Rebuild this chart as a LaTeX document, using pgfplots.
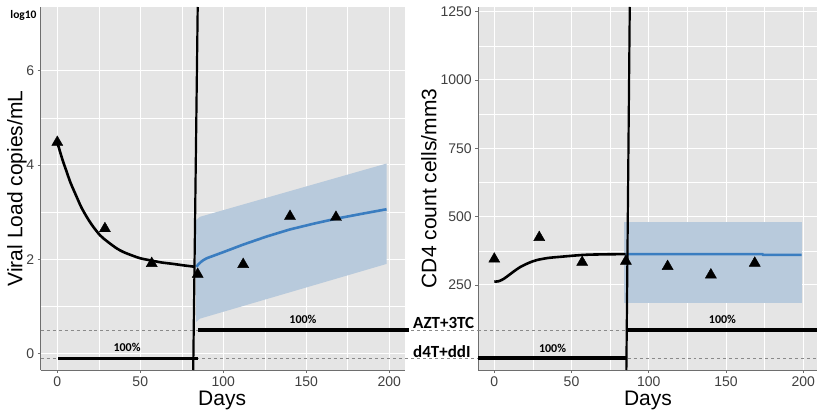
\documentclass[border=0pt]{standalone}
\usepackage{pgfplots}
\pgfplotsset{compat=1.18}
\usepackage{fontspec}
\setmainfont{Liberation Sans}
\newfontfamily\calibri{Carlito}

\definecolor{panelbg}{HTML}{E5E5E5}
\definecolor{bandblue}{HTML}{B8CADC}
\definecolor{lineblue}{HTML}{3A7DC0}
\definecolor{axisgray}{HTML}{6E6E6E}
\definecolor{tickgray}{HTML}{404040}
\definecolor{dashgray}{HTML}{8A8A8A}

\pgfplotsset{
  panel/.style={
    scale only axis, anchor=south west, clip=false,
    axis background/.style={fill=panelbg},
    axis lines=left, axis line style={-, draw=axisgray, line width=0.8bp},
    grid=both,
    major grid style={white, line width=1bp},
    minor grid style={white, line width=0.5bp},
    tick align=outside, major tick length=3bp, minor tick length=0pt,
    tick style={axisgray, line width=0.7bp},
    ticklabel style={font=\fontsize{14bp}{14bp}\selectfont, text=tickgray},
    /pgf/number format/assume math mode=true,
    /pgf/number format/1000 sep={},
    scaled ticks=false,
    label style={font=\fontsize{21bp}{21bp}\selectfont},
    xtick={0,50,100,150,200}, minor xtick={25,75,125,175},
  },
}
\tikzset{pct/.style={font=\calibri\bfseries\fontsize{12bp}{12bp}\selectfont}}

\begin{document}
\begin{tikzpicture}
\useasboundingbox (0,0) rectangle (817bp,411bp);

% ---------- viral load ----------
\begin{axis}[panel,
    at={(40.7bp,41bp)}, width=364.3bp, height=363bp,
    xmin=-10, xmax=209.5, ymin=-0.35, ymax=7.35,
    ytick={0,2,4,6}, minor ytick={1,3,5},
    xlabel={Days}, ylabel={Viral Load copies/mL},
    xlabel style={at={(rel axis cs:0.498,-0.083)}, anchor=center},
    ylabel style={at={(rel axis cs:-0.065,0.5)}, anchor=center, rotate=0},
]
  % confidence band
  \addplot[fill=bandblue, draw=none] coordinates {
    (83.6,2.83) (86,2.90) (90,2.94) (198.4,4.03)
    (198.4,1.90) (86,0.74) (83.6,0.67)
  } -- cycle;
  % regimen guides
  \addplot[dashgray, dashed, line width=0.6bp] coordinates {(-10,0.5) (253.4,0.5)};
  \addplot[dashgray, dashed, line width=0.6bp] coordinates {(-10,-0.1) (253.4,-0.1)};
  % prediction
  \addplot[lineblue, line width=2.6bp] coordinates {
    (83.8,1.84) (85,1.89) (86.5,1.94) (88,1.98) (90,2.02) (100,2.15)
    (112,2.31) (126,2.48) (140,2.63) (154,2.75) (168,2.86) (183,2.96) (198.4,3.06)
  };
  % fit
  \addplot[black, line width=2.6bp, smooth] coordinates {
    (0,4.47) (1,4.36) (2,4.24) (3.5,4.07) (5.6,3.86) (8,3.62) (11.7,3.32) (14.5,3.10)
    (17.7,2.90) (21,2.72) (25.7,2.51) (30,2.38) (35.8,2.23) (40,2.15)
    (45.8,2.07) (50,2.02) (56.9,1.97) (63,1.93) (69.9,1.90) (76,1.87) (83,1.84)
  };
  % switch day
  \addplot[black, line width=2.2bp] coordinates {(81.9,-0.35) (84.6,7.35)};
  % regimen bars
  \addplot[black, line width=3.4bp] coordinates {(0.6,-0.1) (84.6,-0.1)};
  \addplot[black, line width=3.4bp] coordinates {(85,0.5) (211.8,0.5)};
  % observed
  \addplot[only marks, mark=triangle*, mark size=6.4bp, black] coordinates {
    (0,4.48) (28.7,2.65) (56.9,1.91) (84.6,1.68) (112,1.89) (140.2,2.91) (167.9,2.89)
  };
  \node[pct] at (axis cs:42,0.12) {100\%};
  \node[pct] at (axis cs:148,0.73) {100\%};
\end{axis}

% ---------- CD4 ----------
\begin{axis}[panel,
    at={(478.3bp,41bp)}, width=338.7bp, height=363bp,
    xmin=-10.35, xmax=208.9, ymin=-61, ymax=1267,
    ytick={250,500,750,1000,1250}, minor ytick={375,625,875,1125},
    xlabel={Days}, ylabel={CD4 count cells/mm3},
    xlabel style={at={(rel axis cs:0.501,-0.085)}, anchor=center},
    ylabel style={at={(rel axis cs:-0.146,0.5)}, anchor=center, rotate=0},
]
  \addplot[fill=bandblue, draw=none] coordinates {
    (84.1,183) (84.1,481.5) (199,481.5) (199,183)
  } -- cycle;
  \addplot[dashgray, dashed, line width=0.6bp] coordinates {(-10.35,86) (208.9,86)};
  \addplot[dashgray, dashed, line width=0.6bp] coordinates {(-10.35,-17) (208.9,-17)};
  \addplot[lineblue, line width=2.6bp] coordinates {
    (85,363) (173.6,363) (174,360) (199,360)
  };
  \addplot[black, line width=2.6bp, smooth] coordinates {
    (0,262) (3,264) (6,272) (8,280) (12,297) (16.6,315) (22,330) (27.4,341)
    (35,349) (42.5,353) (57.6,360) (70,362) (85,363)
  };
  \addplot[black, line width=2.2bp] coordinates {(85.5,-61) (87.7,1267)};
  \addplot[black, line width=3.4bp] coordinates {(-10.35,-17) (85.5,-17)};
  \addplot[black, line width=3.4bp] coordinates {(85.5,86) (208.9,86)};
  \addplot[only marks, mark=triangle*, mark size=6.4bp, black] coordinates {
    (0,345) (29.1,424) (56.9,333) (85.2,337) (112.2,318) (140.2,287) (168.6,330)
  };
  \node[pct] at (axis cs:37.7,18) {100\%};
  \node[pct] at (axis cs:147.7,124) {100\%};
\end{axis}

% regimen names and unit tag
\node[anchor=west, inner sep=0pt, font=\calibri\bfseries\fontsize{17bp}{17bp}\selectfont] at (413bp,88.3bp) {AZT+3TC};
\node[anchor=west, inner sep=0pt, font=\calibri\bfseries\fontsize{17bp}{17bp}\selectfont] at (413bp,59.3bp) {d4T+ddI};
\node[font=\calibri\bfseries\fontsize{11.5bp}{11.5bp}\selectfont] at (23.5bp,396bp) {log10};
\end{tikzpicture}
\end{document}
